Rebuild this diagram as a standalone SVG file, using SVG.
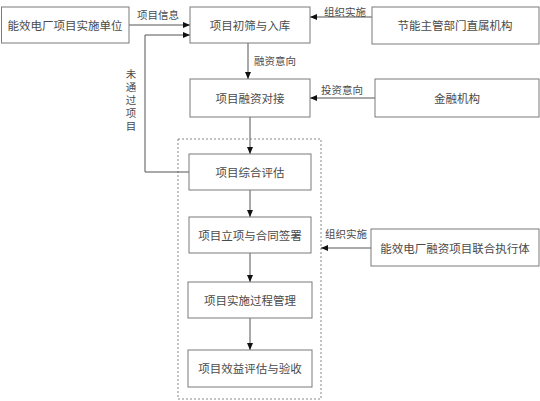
<svg xmlns="http://www.w3.org/2000/svg" width="540" height="401" viewBox="0 0 540 401">
<style>
.box{fill:#fff;stroke:#7a7a7a;stroke-width:1}
.t{font-family:"Noto Sans CJK SC","Noto Sans",sans-serif;font-size:11.5px;fill:#4a4a4a;text-anchor:middle;dominant-baseline:central}
.l{font-family:"Noto Sans CJK SC","Noto Sans",sans-serif;font-size:10.5px;fill:#4a4a4a;text-anchor:middle;dominant-baseline:central}
.v{font-family:"Noto Sans CJK SC","Noto Sans",sans-serif;font-size:10.5px;fill:#4a4a4a;writing-mode:vertical-rl;letter-spacing:2.5px}
.c{fill:none;stroke:#555;stroke-width:1}
</style>
<defs>
<marker id="ah" markerWidth="8" markerHeight="8" refX="7" refY="4" orient="auto" markerUnits="userSpaceOnUse">
<path d="M0,1 L7,4 L0,7 Z" fill="#111"/>
</marker>
</defs>
<rect x="0" y="0" width="540" height="401" fill="#fff"/>
<g id="group-dashed">
<rect x="178" y="139" width="143" height="260" fill="none" stroke="#888" stroke-width="1" stroke-dasharray="2,2"/>
</g>
<g id="connectors">
<line class="c" x1="129" y1="25" x2="190" y2="25" marker-end="url(#ah)"/>
<line class="c" x1="372" y1="17" x2="310" y2="17" marker-end="url(#ah)"/>
<line class="c" x1="248" y1="43" x2="248" y2="79" marker-end="url(#ah)"/>
<line class="c" x1="375" y1="98" x2="310" y2="98" marker-end="url(#ah)"/>
<line class="c" x1="250" y1="117" x2="250" y2="154" marker-end="url(#ah)"/>
<polyline class="c" points="189,172 145,172 145,35 190,35" marker-end="url(#ah)"/>
<line class="c" x1="250" y1="190" x2="250" y2="217" marker-end="url(#ah)"/>
<line class="c" x1="371" y1="248" x2="321" y2="248" marker-end="url(#ah)"/>
<line class="c" x1="250" y1="253" x2="250" y2="282" marker-end="url(#ah)"/>
<line class="c" x1="250" y1="318" x2="250" y2="350" marker-end="url(#ah)"/>
<text class="l" x="158" y="14">项目信息</text>
<text class="l" x="345" y="11">组织实施</text>
<text class="l" x="275" y="60">融资意向</text>
<text class="l" x="342" y="89">投资意向</text>
<text class="l" x="346" y="233">组织实施</text>
<text class="v" x="131" y="69">未通过项目</text>
</g>
<g id="n1"><rect class="box" x="1.5" y="7" width="127.5" height="36"/><text class="t" x="65" y="25">能效电厂项目实施单位</text></g>
<g id="n2"><rect class="box" x="190" y="7" width="120" height="36"/><text class="t" x="250" y="25">项目初筛与入库</text></g>
<g id="n3"><rect class="box" x="372" y="7" width="167" height="37"/><text class="t" x="455" y="25">节能主管部门直属机构</text></g>
<g id="n4"><rect class="box" x="190" y="79" width="120" height="38"/><text class="t" x="250" y="98">项目融资对接</text></g>
<g id="n5"><rect class="box" x="375" y="79" width="164" height="38"/><text class="t" x="457" y="98">金融机构</text></g>
<g id="n6"><rect class="box" x="189" y="154" width="122" height="36"/><text class="t" x="250" y="172">项目综合评估</text></g>
<g id="n7"><rect class="box" x="189" y="217" width="122" height="36"/><text class="t" x="250" y="235">项目立项与合同签署</text></g>
<g id="n8"><rect class="box" x="371" y="229" width="168" height="37"/><text class="t" x="455" y="248">能效电厂融资项目联合执行体</text></g>
<g id="n9"><rect class="box" x="188" y="282" width="124" height="36"/><text class="t" x="250" y="300">项目实施过程管理</text></g>
<g id="n10"><rect class="box" x="188" y="350" width="124" height="37"/><text class="t" x="250" y="368">项目效益评估与验收</text></g>
</svg>
